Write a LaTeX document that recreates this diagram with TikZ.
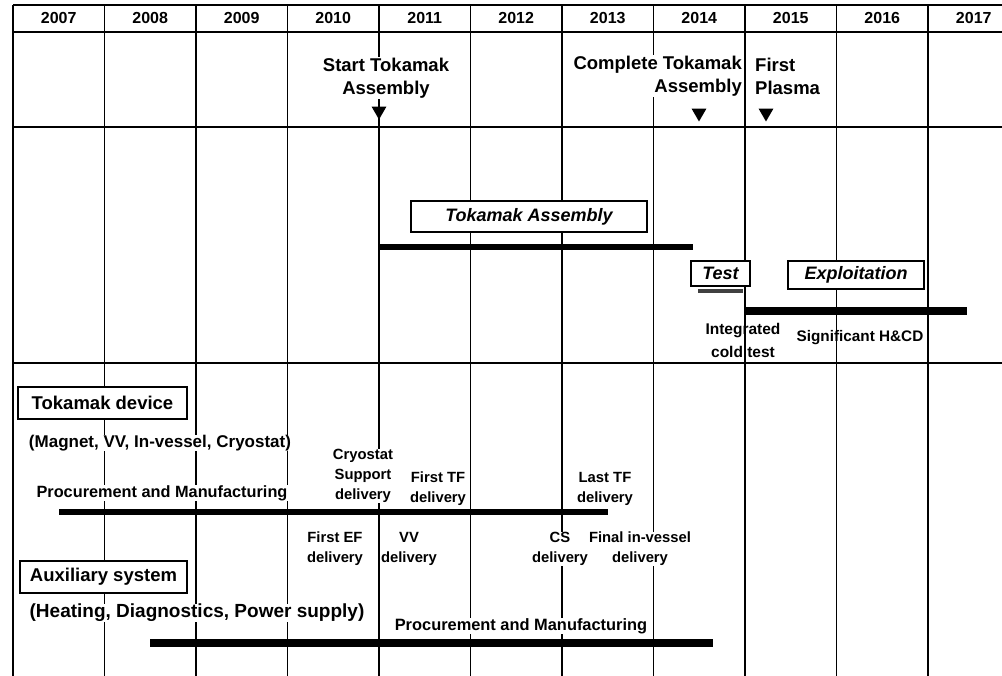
\documentclass[tikz,border=0pt]{standalone}
\usepackage{fontspec}
\setmainfont{Liberation Sans}
\usetikzlibrary{positioning,shapes.geometric}

\begin{document}
\begin{tikzpicture}[x=1pt,y=-1pt,
		grid/.style={line width=1.8pt},
		yearlbl/.style={font=\bfseries\fontsize{16}{16}\selectfont, inner sep=0pt},
		milestone/.style={font=\bfseries\fontsize{18.5}{23}\selectfont, fill=white, inner sep=1pt},
		phasebox/.style={draw, line width=1.4pt, fill=white, inner sep=0pt, font=\bfseries\itshape\fontsize{18}{18}\selectfont},
		groupbox/.style={draw, line width=1.4pt, fill=white, inner sep=0pt, font=\bfseries\fontsize{18.5}{18.5}\selectfont},
		note/.style={font=\bfseries\fontsize{14.8}{20}\selectfont, align=center, fill=white, inner sep=0.5pt},
		bar/.style={line width=#1},
		marker/.style={regular polygon, regular polygon sides=3, shape border rotate=180, fill=black, inner sep=0pt, minimum size=17pt}]
		% Page size and clipping
		\useasboundingbox (0,0) rectangle (1002,676);
		\clip (0,0) rectangle (1002,676);

		% Define the grid: left edge and column width
		\def\xo{13}    % Left border
		\def\cw{91.5}  % One year

		% Draw the year grid
		\foreach \i in {0,...,11} {
				\draw[grid] ({\xo+\cw*\i},5) -- ({\xo+\cw*\i},676);
			}
		\foreach \y in {5,32,127,363} {
				\draw[grid] (\xo,\y) -- (1002,\y);
			}

		% Label years
		\foreach \yr [count=\i from 0] in {2007,...,2017} {
				\node[yearlbl] (y\yr) at ({\xo+\cw*\i+\cw/2},18) {\yr};
			}

		% Milestones with markers
		\node[milestone, align=center] (start) at (386,78) {Start Tokamak\\Assembly};
		\node[marker] (startmk) at (379,111) {};
		\node[milestone, align=right, anchor=east] (complete) at (743,76) {Complete Tokamak\\Assembly};
		\node[marker] (completemk) at (699,113) {};
		\node[milestone, align=left, anchor=west] (plasma) at (754,76) {First\\Plasma};
		\node[marker] (plasmamk) at (766,113) {};

		% Tokamak assembly phase
		\node[phasebox, minimum width=236pt, minimum height=31pt] (asm) at (529,216.5) {Tokamak Assembly};
		\coordinate (asmS) at (380,247);
		\coordinate (asmE) at (693,247);
		\draw[bar=6pt] (asmS) -- (asmE);

		% Test phase
		\node[phasebox, minimum width=59pt, minimum height=25pt] (test) at (720.5,273.5) {Test};
		\coordinate (testS) at (698,291);
		\coordinate (testE) at (743,291);
		\draw[bar=4pt, black!75] (testS) -- (testE);
		\node[note, fill=none, font=\bfseries\fontsize{15.5}{23}\selectfont] (cold) at (743,340) {Integrated\\cold test};

		% Exploitation phase
		\node[phasebox, minimum width=136pt, minimum height=28pt] (expl) at (856,275) {Exploitation};
		\coordinate (explS) at (745,311);
		\coordinate (explE) at (967,311);
		\draw[bar=8pt] (explS) -- (explE);
		\node[note, fill=none, font=\bfseries\fontsize{15.3}{15.3}\selectfont] (hcd) at (860,338) {Significant H\&CD};

		% Tokamak device
		\node[groupbox, minimum width=169pt, minimum height=32pt] (tok) at (102.5,403) {Tokamak device};
		\node[note, font=\bfseries\fontsize{17}{17}\selectfont] (tokpart) at (160,443) {(Magnet, VV, In-vessel, Cryostat)};
		\node[note, font=\bfseries\fontsize{16.3}{16.3}\selectfont] (tokpm) at (162,493) {Procurement and Manufacturing};
		\coordinate (tokS) at (59,512);
		\coordinate (tokE) at (608,512);
		\draw[bar=6.5pt] (tokS) -- (tokE);

		% Deliveries above the bar
		\node[note] (cryo) at (363,476) {Cryostat\\Support\\delivery};
		\node[note] (ftf) at (438,489) {First TF\\delivery};
		\node[note] (ltf) at (605,489) {Last TF\\delivery};

		% Deliveries below the bar
		\node[note] (fef) at (335,549) {First EF\\delivery};
		\node[note] (vv) at (409,549) {VV\\delivery};
		\node[note] (fiv) at (640,549) {Final in-vessel\\delivery};
		\node[note] (cs) at (560,549) {CS\\delivery};

		% Auxiliary system
		\node[groupbox, minimum width=167pt, minimum height=32pt] (aux) at (103.5,577) {Auxiliary system};
		\node[note, font=\bfseries\fontsize{19}{19}\selectfont] (auxpart) at (197,613) {(Heating, Diagnostics, Power supply)};
		\node[note, font=\bfseries\fontsize{16.4}{16.4}\selectfont] (auxpm) at (521,626) {Procurement and Manufacturing};
		\coordinate (auxS) at (150,643);
		\coordinate (auxE) at (713,643);
		\draw[bar=8pt] (auxS) -- (auxE);
	\end{tikzpicture}
\end{document}
